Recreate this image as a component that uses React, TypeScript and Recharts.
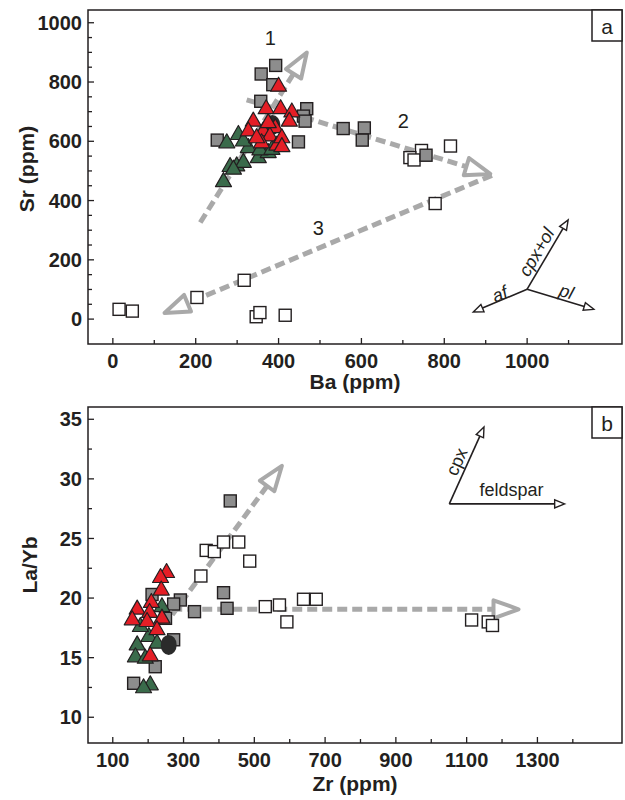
import {
  ScatterChart, Scatter, XAxis, YAxis,
  ReferenceLine, ReferenceDot, ReferenceArea,
} from "recharts";

const FONT = "'Liberation Sans', Arial, Helvetica, sans-serif";
const INK = "#231f20";
const TREND = "#a9a9a9";
const GRAY = "#8d8d8d";
const RED = "#e41e26";
const GREEN = "#3a6b4b";

// ---------- panel a: Sr vs Ba ----------
const baSrWhite = [[15, 33], [47, 27], [203, 73], [317, 131], [346, 8], [355, 22], [416, 13], [778, 390], [745, 569], [717, 545], [727, 537], [815, 584]];
const baSrGray = [[393, 856], [358, 827], [386, 791], [357, 735], [468, 710], [460, 685], [464, 668], [252, 604], [448, 598], [556, 643], [607, 645], [602, 604], [756, 553]];
const baSrGreen = [[267, 469], [283, 520], [299, 522], [315, 534], [291, 511], [351, 550], [375, 567], [275, 600], [303, 628], [327, 584], [355, 576], [384, 578], [315, 606]];
const baSrRed = [[400, 791], [370, 715], [405, 715], [432, 704], [426, 673], [339, 673], [327, 640], [363, 640], [392, 651], [379, 623], [359, 600], [396, 592], [408, 617], [347, 617], [375, 668], [408, 587]];
const baSrBlack = [[385, 655]];

// trend arrows: from (x,y) to (x,y)
const baSrTrends = [[211, 326, 472, 908], [323, 740, 918, 487], [915, 485, 118, 17]];
const baSrTrendLabels = [["1", 380, 950], ["2", 701, 669], ["3", 496, 307]];
const baSrVecOrigin = [1000, 101];
const baSrVecTips = [[1099, 335], [870, 24], [1161, 33]];
const baSrVecLabels = [["cpx+ol", 1023, 226, -59.5], ["af", 934, 84, -22.8], ["pl", 1095, 92, 17]];

const baTicks = [0, 100, 200, 300, 400, 500, 600, 700, 800, 900, 1000, 1100];
const baMajor = [0, 200, 400, 600, 800, 1000];
const srTicks = [0, 50, 100, 150, 200, 250, 300, 350, 400, 450, 500, 550, 600, 650, 700, 750, 800, 850, 900, 950, 1000];
const srMajor = [0, 200, 400, 600, 800, 1000];

// ---------- panel b: La/Yb vs Zr ----------
const zrLyWhite = [[364, 24.0], [387, 23.9], [413, 24.7], [456, 24.7], [487, 23.1], [349, 21.85], [531, 19.28], [571, 19.42], [592, 18.0], [639, 19.9], [675, 19.9], [1114, 18.16], [1161, 18.0], [1173, 17.7]];
const zrLyGray = [[432, 28.15], [413, 20.45], [423, 19.14], [291, 19.84], [272, 19.5], [331, 18.86], [220, 14.24], [159, 12.85], [211, 20.3], [249, 18.3], [272, 16.5]];
const zrLyGreen = [[169, 16.2], [202, 16.9], [225, 16.34], [164, 15.2], [192, 15.08], [239, 19.4], [178, 17.74], [206, 12.85], [187, 12.6]];
const zrLyRed = [[252, 22.27], [235, 21.85], [237, 20.8], [209, 19.76], [169, 19.2], [204, 18.92], [155, 18.3], [197, 18.16], [239, 18.44], [225, 17.47], [206, 15.28]];
const zrLyBlack = [[258, 16.07]];

const zrLyTrends = [[268, 18.6, 583, 31.3], [268, 19.06, 1255, 19.06]];
const zrLyVecOrigin = [1051, 27.9];
const zrLyVecTips = [[1377, 27.9], [1149, 34.35]];
const zrLyVecLabels = [["feldspar", 1227, 29.07, 0], ["cpx", 1072, 31.44, -65.7]];

const zrTicks = [100, 200, 300, 400, 500, 600, 700, 800, 900, 1000, 1100, 1200, 1300, 1400];
const zrMajor = [100, 300, 500, 700, 900, 1100, 1300];
const lyTicks = [10, 12.5, 15, 17.5, 20, 22.5, 25, 27.5, 30, 32.5, 35];
const lyMajor = [10, 15, 20, 25, 30, 35];

const toPts = (rows: number[][]) => rows.map(([x, y]) => ({ x, y }));

// ---------- marks ----------
const square = (fill: string) => (p: any) => (
  <rect x={p.cx - 6} y={p.cy - 6} width={12} height={12} fill={fill} stroke={INK} strokeWidth={1.4} />
);
const triangle = (fill: string) => (p: any) => (
  <polygon points={`${p.cx},${p.cy - 7.5} ${p.cx + 8},${p.cy + 6.5} ${p.cx - 8},${p.cy + 6.5}`}
    fill={fill} stroke={INK} strokeWidth={1.2} strokeLinejoin="round" />
);
const blob = (p: any) => <ellipse cx={p.cx} cy={p.cy} rx={8} ry={10} fill="#2b2b2b" />;

const trendArrow = (p: any) => {
  const { x1, y1, x2, y2 } = p;
  const len = Math.hypot(x2 - x1, y2 - y1);
  const ux = (x2 - x1) / len, uy = (y2 - y1) / len;
  const tx = x2 - ux * 3, ty = y2 - uy * 3;
  const bx = tx - ux * 25, by = ty - uy * 25;
  const pts = `${tx},${ty} ${bx - uy * 9},${by + ux * 9} ${bx + uy * 9},${by - ux * 9}`;
  return (
    <g>
      <line x1={x1} y1={y1} x2={bx + ux * 2} y2={by + uy * 2} stroke={TREND} strokeWidth={5} strokeDasharray="10 5" />
      <polygon points={pts} fill="#fff" stroke={TREND} strokeWidth={4} strokeLinejoin="round" />
    </g>
  );
};

const vecArrow = (p: any) => {
  const { x1, y1, x2, y2 } = p;
  const len = Math.hypot(x2 - x1, y2 - y1);
  const ux = (x2 - x1) / len, uy = (y2 - y1) / len;
  const bx = x2 - ux * 10, by = y2 - uy * 10;
  const pts = `${x2},${y2} ${bx - uy * 4},${by + ux * 4} ${bx + uy * 4},${by - ux * 4}`;
  return (
    <g>
      <line x1={x1} y1={y1} x2={bx} y2={by} stroke={INK} strokeWidth={1.6} />
      <polygon points={pts} fill="#fff" stroke={INK} strokeWidth={1.4} />
    </g>
  );
};

const label = (text: string, angle: number, size: number, italic: boolean) => (p: any) => (
  <text x={p.cx} y={p.cy} transform={`rotate(${angle} ${p.cx} ${p.cy})`} textAnchor="middle"
    dominantBaseline="central" fontFamily={FONT} fontSize={size} fontStyle={italic ? "italic" : "normal"} fill={INK}>
    {text}
  </text>
);

const letterBox = (letter: string) => (p: any) => (
  <g>
    <rect x={p.cx - 30} y={p.cy} width={30} height={31} fill="#fff" stroke={INK} strokeWidth={1.5} />
    <text x={p.cx - 15} y={p.cy + 16} textAnchor="middle" dominantBaseline="central" fontFamily={FONT} fontSize={21} fill={INK}>{letter}</text>
  </g>
);

const xTick = (majors: number[]) => (p: any) => {
  const v = p.payload.value;
  const major = majors.includes(v);
  return (
    <g>
      <line x1={p.x} x2={p.x} y1={p.y} y2={p.y - (major ? 6 : 4)} stroke={INK} strokeWidth={1.3} />
      {major && (
        <text x={p.x} y={p.y + 24} textAnchor="middle" fontFamily={FONT} fontWeight="bold" fontSize={20} fill={INK}>{v}</text>
      )}
    </g>
  );
};

const yTick = (majors: number[]) => (p: any) => {
  const v = p.payload.value;
  const major = majors.includes(v);
  return (
    <g>
      <line x1={p.x} x2={p.x + (major ? 6 : 4)} y1={p.y} y2={p.y} stroke={INK} strokeWidth={1.3} />
      {major && (
        <text x={p.x - 6} y={p.y} dy="0.36em" textAnchor="end" fontFamily={FONT} fontWeight="bold" fontSize={20} fill={INK}>{v}</text>
      )}
    </g>
  );
};

const xTitle = (text: string, dy: number) => (p: any) => {
  const vb = p.viewBox;
  return (
    <text x={vb.x + vb.width / 2} y={vb.y + dy} textAnchor="middle" fontFamily={FONT} fontWeight="bold" fontSize={21} fill={INK}>{text}</text>
  );
};
const yTitle = (text: string, bx: number, shift: number) => (p: any) => {
  const vb = p.viewBox;
  const cy = vb.y + vb.height / 2 + shift;
  return (
    <text x={bx} y={cy} transform={`rotate(-90 ${bx} ${cy})`} textAnchor="middle" fontFamily={FONT} fontWeight="bold" fontSize={21} fill={INK}>{text}</text>
  );
};

const series = (rows: number[][], shape: any, key: string) => (
  <Scatter key={key} data={toPts(rows)} shape={shape} isAnimationActive={false} />
);

const baDomain: [number, number] = [-60, 1229];
const srDomain: [number, number] = [-84, 1043];
const zrDomain: [number, number] = [30, 1539];
const lyDomain: [number, number] = [7.84, 36.03];

export default function App() {
  return (
    <div style={{ position: "absolute", left: 0, top: 0, width: 625, height: 800, background: "#fff" }}>
      <ScatterChart width={625} height={400} margin={{ top: 10, right: 3, bottom: 0, left: 0 }}>
        <XAxis type="number" dataKey="x" domain={baDomain} allowDataOverflow ticks={baTicks} interval={0}
          tick={xTick(baMajor)} tickSize={0} tickMargin={0} tickLine={false} axisLine={false} height={56}
          label={{ content: xTitle("Ba (ppm)", 45) }} />
        <YAxis type="number" dataKey="y" domain={srDomain} allowDataOverflow ticks={srTicks} interval={0}
          tick={yTick(srMajor)} tickSize={0} tickMargin={0} tickLine={false} axisLine={false} width={88}
          label={{ content: yTitle("Sr (ppm)", 34, -8) }} />
        <ReferenceArea x1={baDomain[0]} x2={baDomain[1]} y1={srDomain[0]} y2={srDomain[1]} fill="none" fillOpacity={0} stroke={INK} strokeWidth={1.5} />
        {baSrTrends.map((t, i) => (
          <ReferenceLine key={`ta${i}`} segment={[{ x: t[0], y: t[1] }, { x: t[2], y: t[3] }]} shape={trendArrow} />
        ))}
        {baSrVecTips.map((t, i) => (
          <ReferenceLine key={`va${i}`} segment={[{ x: baSrVecOrigin[0], y: baSrVecOrigin[1] }, { x: t[0], y: t[1] }]} shape={vecArrow} />
        ))}
        {baSrTrendLabels.map((l, i) => (
          <ReferenceDot key={`la${i}`} x={l[1] as number} y={l[2] as number} shape={label(l[0] as string, 0, 20, false)} />
        ))}
        {baSrVecLabels.map((l, i) => (
          <ReferenceDot key={`lv${i}`} x={l[1] as number} y={l[2] as number} shape={label(l[0] as string, l[3] as number, 18, true)} />
        ))}
        <ReferenceDot x={baDomain[1]} y={srDomain[1]} shape={letterBox("a")} />
        {series(baSrWhite, square("#fff"), "aw")}
        {series(baSrGray, square(GRAY), "ag")}
        {series(baSrGreen, triangle(GREEN), "agr")}
        {series(baSrBlack, blob, "ab")}
        {series(baSrRed, triangle(RED), "ar")}
      </ScatterChart>

      <ScatterChart width={625} height={400} margin={{ top: 7, right: 3, bottom: 0, left: 0 }}>
        <XAxis type="number" dataKey="x" domain={zrDomain} allowDataOverflow ticks={zrTicks} interval={0}
          tick={xTick(zrMajor)} tickSize={0} tickMargin={0} tickLine={false} axisLine={false} height={57}
          label={{ content: xTitle("Zr (ppm)", 48) }} />
        <YAxis type="number" dataKey="y" domain={lyDomain} allowDataOverflow ticks={lyTicks} interval={0}
          tick={yTick(lyMajor)} tickSize={0} tickMargin={0} tickLine={false} axisLine={false} width={88}
          label={{ content: yTitle("La/Yb", 37, -10) }} />
        <ReferenceArea x1={zrDomain[0]} x2={zrDomain[1]} y1={lyDomain[0]} y2={lyDomain[1]} fill="none" fillOpacity={0} stroke={INK} strokeWidth={1.5} />
        {zrLyTrends.map((t, i) => (
          <ReferenceLine key={`tb${i}`} segment={[{ x: t[0], y: t[1] }, { x: t[2], y: t[3] }]} shape={trendArrow} />
        ))}
        {zrLyVecTips.map((t, i) => (
          <ReferenceLine key={`vb${i}`} segment={[{ x: zrLyVecOrigin[0], y: zrLyVecOrigin[1] }, { x: t[0], y: t[1] }]} shape={vecArrow} />
        ))}
        {zrLyVecLabels.map((l, i) => (
          <ReferenceDot key={`lb${i}`} x={l[1] as number} y={l[2] as number} shape={label(l[0] as string, l[3] as number, 18, false)} />
        ))}
        <ReferenceDot x={zrDomain[1]} y={lyDomain[1]} shape={letterBox("b")} />
        {series(zrLyWhite, square("#fff"), "bw")}
        {series(zrLyGray, square(GRAY), "bg")}
        {series(zrLyGreen, triangle(GREEN), "bgr")}
        {series(zrLyRed, triangle(RED), "br")}
        {series(zrLyBlack, blob, "bb")}
      </ScatterChart>
    </div>
  );
}
